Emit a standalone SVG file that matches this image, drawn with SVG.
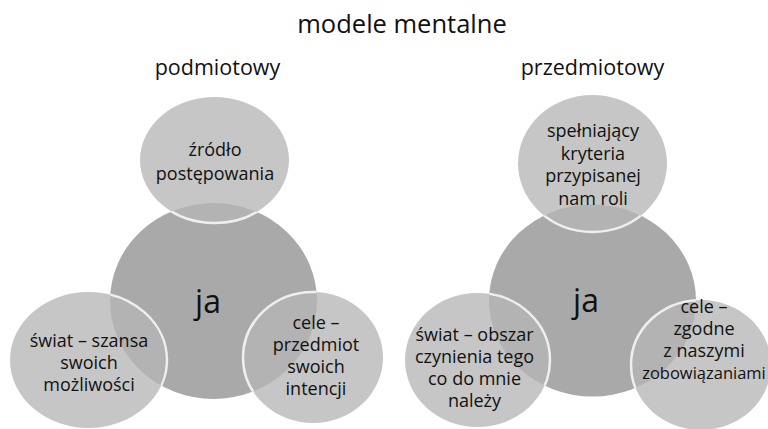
<svg xmlns="http://www.w3.org/2000/svg" width="768" height="429" viewBox="0 0 768 429">
<style>
text{font-family:"Open Sans","Noto Sans","DejaVu Sans",sans-serif;fill:#111111;text-anchor:middle}
.title{font-size:25.5px}
.sub{font-size:21.5px}
.lbl{font-size:18px}
.ja{font-size:32px}
.core{fill:#a9a9a9}
.sat{fill:#b6b6b6;fill-opacity:0.78}
.rim{fill:none;stroke:#ffffff;stroke-opacity:0.8;stroke-width:2.5}
</style>
<defs>
<clipPath id="clipL"><ellipse cx="213.5" cy="301" rx="103.5" ry="98"/></clipPath>
<clipPath id="clipR"><ellipse cx="592.5" cy="300.5" rx="103.5" ry="96"/></clipPath>
</defs>
<rect width="768" height="429" fill="#ffffff"/>
<text class="title" x="402" y="33">modele mentalne</text>
<text class="sub" x="217.5" y="75">podmiotowy</text>
<text class="sub" x="592.5" y="75">przedmiotowy</text>

<g id="connectors"/>

<g id="left-ja">
<ellipse class="core" cx="213.5" cy="301" rx="103.5" ry="98"/>
<text class="ja" x="208" y="313">ja</text>
</g>
<g id="left-top">
<ellipse class="sat" cx="214.5" cy="160" rx="74.5" ry="63"/>
<ellipse class="rim" cx="214.5" cy="160" rx="74.5" ry="63" clip-path="url(#clipL)"/>
<text class="lbl" x="215" y="156">źródło</text>
<text class="lbl" x="215" y="180">postępowania</text>
</g>
<g id="left-bl">
<ellipse class="sat" cx="88.5" cy="360" rx="78.5" ry="68"/>
<ellipse class="rim" cx="88.5" cy="360" rx="78.5" ry="68" clip-path="url(#clipL)"/>
<text class="lbl" x="89" y="347">świat – szansa</text>
<text class="lbl" x="89" y="369">swoich</text>
<text class="lbl" x="89" y="391">możliwości</text>
</g>
<g id="left-br">
<ellipse class="sat" cx="313" cy="357.5" rx="70" ry="65.5"/>
<ellipse class="rim" cx="313" cy="357.5" rx="70" ry="65.5" clip-path="url(#clipL)"/>
<text class="lbl" x="316" y="329">cele –</text>
<text class="lbl" x="316" y="351">przedmiot</text>
<text class="lbl" x="316" y="373">swoich</text>
<text class="lbl" x="316" y="395">intencji</text>
</g>

<g id="right-ja">
<ellipse class="core" cx="592.5" cy="300.5" rx="103.5" ry="96"/>
<text class="ja" x="586" y="312">ja</text>
</g>
<g id="right-top">
<ellipse class="sat" cx="592.5" cy="163.5" rx="74.5" ry="68.5"/>
<ellipse class="rim" cx="592.5" cy="163.5" rx="74.5" ry="68.5" clip-path="url(#clipR)"/>
<text class="lbl" x="593" y="137">spełniający</text>
<text class="lbl" x="593" y="160">kryteria</text>
<text class="lbl" x="593" y="182">przypisanej</text>
<text class="lbl" x="593" y="205">nam roli</text>
</g>
<g id="right-bl">
<ellipse class="sat" cx="477.5" cy="360" rx="72.5" ry="67"/>
<ellipse class="rim" cx="477.5" cy="360" rx="72.5" ry="67" clip-path="url(#clipR)"/>
<text class="lbl" x="474.5" y="341">świat – obszar</text>
<text class="lbl" x="474.5" y="363">czynienia tego</text>
<text class="lbl" x="474.5" y="385">co do mnie</text>
<text class="lbl" x="474.5" y="407">należy</text>
</g>
<g id="right-br">
<ellipse class="sat" cx="701" cy="365" rx="70" ry="65"/>
<ellipse class="rim" cx="701" cy="365" rx="70" ry="65" clip-path="url(#clipR)"/>
<text class="lbl" x="704" y="313">cele –</text>
<text class="lbl" x="704" y="335">zgodne</text>
<text class="lbl" x="704" y="357">z naszymi</text>
<text class="lbl" x="704" y="379" style="font-size:16.5px">zobowiązaniami</text>
</g>
</svg>
